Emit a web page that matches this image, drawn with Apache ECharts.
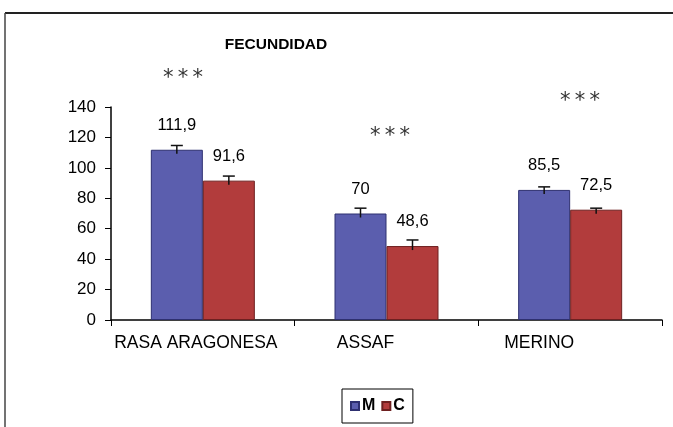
<!DOCTYPE html>
<html>
<head>
<meta charset="utf-8">
<script src="https://cdn.jsdelivr.net/npm/echarts@6/dist/echarts.min.js"></script>
<style>html,body{margin:0;padding:0;background:#fff}#c{width:673px;height:427px}</style>
</head>
<body>
<div id="c"></div>
<script>
const categories = ['RASA ARAGONESA', 'ASSAF', 'MERINO'];
const seriesNames = ['M', 'C'];
const valuesM = [111.9, 70, 85.5];
const valuesC = [91.6, 48.6, 72.5];
const errorsM = [2.8, 3.5, 2.0];
const errorsC = [3.0, 4.0, 1.0];
const yTicks = [0, 20, 40, 60, 80, 100, 120, 140];
const significance = ['***', '***', '***'];

const BAR_W = 52;
const font = 'Liberation Sans, Arial, sans-serif';
const chart = echarts.init(document.getElementById('c'), null, {renderer: 'canvas'});

function errSeries(vals, errs, side) {
  return {
    type: 'custom',
    z: 5,
    silent: true,
    data: vals.map((v, i) => [i, v, errs[i]]),
    renderItem: function (params, api) {
      const i = api.value(0), v = api.value(1), e = api.value(2);
      const base = api.coord([i, v]);
      const top = api.coord([i, v + e]);
      const x = base[0] + side * BAR_W / 2;
      return {
        type: 'group',
        children: [
          {type: 'line', shape: {x1: x, y1: base[1] + 4, x2: x, y2: top[1]}, style: {stroke: '#111', lineWidth: 1.5}},
          {type: 'line', shape: {x1: x - 6, y1: top[1], x2: x + 6, y2: top[1]}, style: {stroke: '#111', lineWidth: 1.5}}
        ]
      };
    }
  };
}

const labelShift = [7, 21, 31];
const rich = {};
labelShift.forEach((s, i) => { rich['l' + i] = {padding: [0, 2 * s, 0, 0], fontSize: 17.5, fontFamily: font, color: '#000'}; });

function starText(x, y, t) {
  return {type: 'text', x: x, y: y, style: {text: t.split('').join('\u2009'), fontSize: 21, fontFamily: 'DejaVu Sans, sans-serif', fill: '#333',
    textAlign: 'center', textVerticalAlign: 'middle'}};
}

const option = {
  animation: false,
  backgroundColor: '#fff',
  title: {
    text: 'FECUNDIDAD',
    left: 271, top: 32, textAlign: 'center',
    textStyle: {fontSize: 15.5, fontWeight: 'bold', fontFamily: font, color: '#000'}
  },
  legend: {
    data: seriesNames,
    left: 342, top: 389,
    padding: [9, 8, 9, 8],
    itemWidth: 8, itemHeight: 8, itemGap: 6,
    borderColor: '#000', borderWidth: 1,
    textStyle: {fontSize: 16, fontWeight: 'bold', fontFamily: font, color: '#000', padding: [0, 0, 0, -2]},
    icon: 'rect'
  },
  grid: {left: 111, right: 11, top: 107, bottom: 107, containLabel: false},
  xAxis: {
    type: 'category',
    data: categories,
    axisLine: {lineStyle: {color: '#000', width: 1.5}},
    axisTick: {show: true, length: 6, lineStyle: {color: '#000'}},
    axisLabel: {
      margin: 14,
      formatter: function (val, idx) { return '{l' + idx + '|' + val + '}'; },
      rich: rich
    }
  },
  yAxis: {
    type: 'value',
    min: 0, max: 140, interval: 20,
    splitLine: {show: false},
    axisLine: {show: true, lineStyle: {color: '#000', width: 1.5}},
    axisTick: {show: true, length: 6, lineStyle: {color: '#000'}},
    axisLabel: {fontSize: 17, fontFamily: font, color: '#000', margin: 15,
      formatter: v => yTicks.includes(v) ? String(v) : ''}
  },
  series: [
    {
      name: seriesNames[0], type: 'bar', data: valuesM, barWidth: BAR_W, barGap: '0%',
      itemStyle: {color: '#5b5eae', borderColor: '#2e3070', borderWidth: 1},
      label: {show: true, position: 'top', distance: 16, fontSize: 16.5, fontFamily: font, color: '#000',
        formatter: p => String(p.value).replace('.', ',')}
    },
    {
      name: seriesNames[1], type: 'bar', data: valuesC, barWidth: BAR_W,
      itemStyle: {color: '#b23c3c', borderColor: '#6e2020', borderWidth: 1},
      label: {show: true, position: 'top', distance: 16, fontSize: 16.5, fontFamily: font, color: '#000',
        formatter: p => String(p.value).replace('.', ',')}
    },
    errSeries(valuesM, errorsM, -1),
    errSeries(valuesC, errorsC, 1)
  ],
  graphic: [
    {type: 'line', shape: {x1: 5, y1: 13, x2: 673, y2: 13}, style: {stroke: '#222', lineWidth: 2}},
    {type: 'line', shape: {x1: 5, y1: 13, x2: 5, y2: 427}, style: {stroke: '#444', lineWidth: 1.5}},
    starText(183, 79, significance[0]),
    starText(390, 137, significance[1]),
    starText(580, 102, significance[2])
  ]
};
chart.setOption(option);
</script>
</body>
</html>
